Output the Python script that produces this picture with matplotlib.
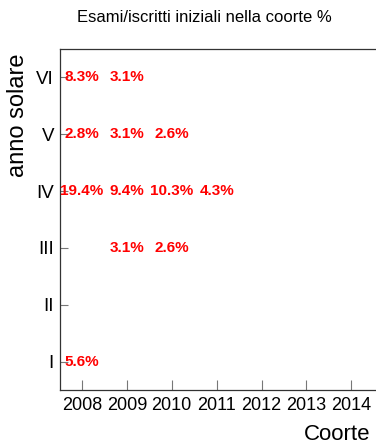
import numpy as np
import matplotlib
matplotlib.use('Agg')
import matplotlib.pyplot as plt

plt.rcParams['font.family'] = ['Liberation Sans', 'DejaVu Sans']

cohorts = [2008, 2009, 2010, 2011, 2012, 2013, 2014]
years = ['I', 'II', 'III', 'IV', 'V', 'VI']

# one entry per printed percentage: cohort, year (1..6), value
pct_cohort = [2008, 2009, 2008, 2009, 2010, 2008, 2009, 2010, 2011, 2009, 2010, 2008]
pct_year = [6, 6, 5, 5, 5, 4, 4, 4, 4, 3, 3, 1]
pct_value = [8.3, 3.1, 2.8, 3.1, 2.6, 19.4, 9.4, 10.3, 4.3, 3.1, 2.6, 5.6]


def main():
    fig = plt.figure(figsize=(3.76, 4.46), dpi=100)
    ax = fig.add_axes([59.5 / 376, 56 / 446, 1 - 59.5 / 376, (390 - 49) / 446])

    for c, y, v in zip(pct_cohort, pct_year, pct_value):
        ax.text(c, y, f'{v:.1f}%', color='#ff0000', fontsize=11,
                fontweight='bold', ha='center', va='center')

    ax.set_xlim(cohorts[0] - 0.5, cohorts[-1] + 0.55)
    ax.set_ylim(0.5, len(years) + 0.5)
    ax.set_xticks(cohorts)
    ax.set_xticklabels([str(c) for c in cohorts])
    ax.set_yticks(np.arange(1, len(years) + 1))
    ax.set_yticklabels(years)

    ax.tick_params(axis='x', direction='in', length=7, color='#777777',
                   labelsize=13, pad=5)
    ax.tick_params(axis='y', direction='in', length=6, color='#777777',
                   labelsize=13.5, pad=4)
    for s in ['left', 'bottom', 'top']:
        ax.spines[s].set_color('#333333')
        ax.spines[s].set_linewidth(0.9)
    ax.spines['right'].set_visible(False)

    fig.text(204.5 / 376, 1 - 17 / 446, 'Esami/iscritti iniziali nella coorte %',
             ha='center', va='center', fontsize=12)
    fig.text(18 / 376, 1 - 115 / 446, 'anno solare', rotation=90,
             ha='center', va='center', fontsize=17)
    fig.text(370 / 376, 1 - 435 / 446, 'Coorte', ha='right', va='center',
             fontsize=16)

    fig.savefig('out.png', dpi=100)


if __name__ == '__main__':
    main()
